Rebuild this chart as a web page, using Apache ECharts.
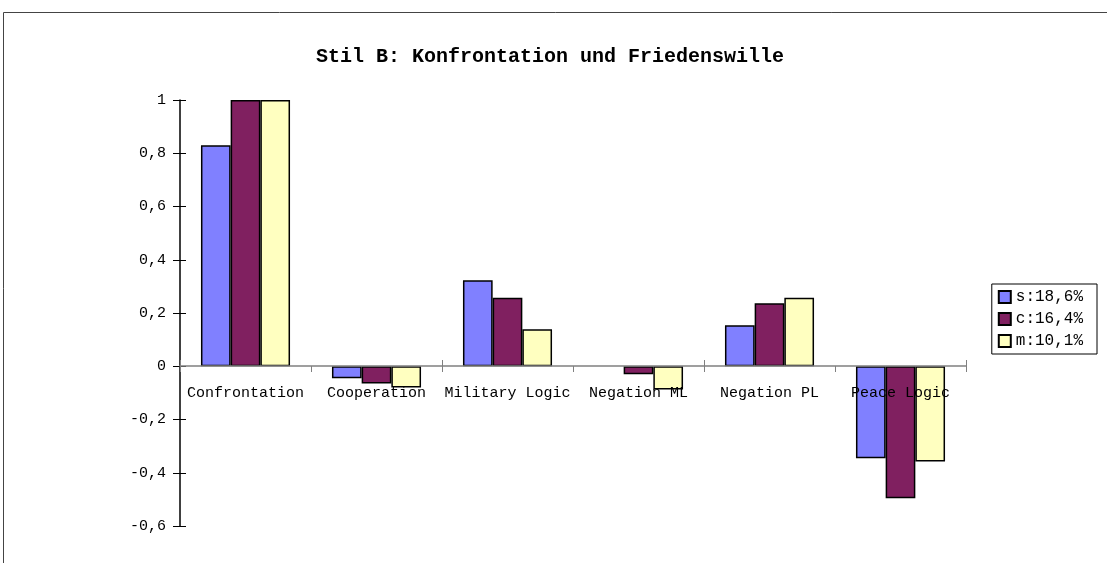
<!DOCTYPE html>
<html>
<head>
<meta charset="utf-8">
<script src="https://cdn.jsdelivr.net/npm/echarts@6/dist/echarts.min.js"></script>
<style>
  html, body { margin: 0; padding: 0; background: #fff; }
  #chart { width: 1107px; height: 563px; }
</style>
</head>
<body>
<div id="chart"></div>
<script>
const categories = ['Confrontation', 'Cooperation', 'Military Logic', 'Negation ML', 'Negation PL', 'Peace Logic'];
const seriesNames = ['s:18,6%', 'c:16,4%', 'm:10,1%'];
const sValues = [0.83, -0.045, 0.323, null, 0.154, -0.346];
const cValues = [1.0, -0.065, 0.257, -0.03, 0.237, -0.496];
const mValues = [1.0, -0.08, 0.139, -0.087, 0.257, -0.358];
const colors = ['#8080ff', '#802060', '#ffffc0'];

const font = '"Liberation Mono", "DejaVu Sans Mono", monospace';
const chart = echarts.init(document.getElementById('chart'), null, { renderer: 'canvas' });

const mkSeries = (name, data, color) => ({
  name: name,
  type: 'bar',
  data: data,
  barGap: '0%',
  barCategoryGap: '32%',
  itemStyle: { color: color, borderColor: '#000', borderWidth: 1.5 },
  emphasis: { disabled: true },
  animation: false
});

// zero line sits at y≈366, bottom of grid at y≈526
const zeroOffset = -160;

chart.setOption({
  animation: false,
  textStyle: { fontFamily: font, color: '#000' },
  title: {
    text: 'Stil B: Konfrontation und Friedenswille',
    left: 545,
    top: 42,
    textAlign: 'center',
    textStyle: { fontFamily: font, fontSize: 20, fontWeight: 'bold', color: '#000' }
  },
  grid: { left: 180, right: 141, top: 100, bottom: 37 },
  legend: {
    orient: 'vertical',
    right: 10,
    top: 284,
    icon: 'rect',
    itemWidth: 12,
    itemHeight: 12,
    itemGap: 6,
    padding: [5, 14, 5, 6],
    borderColor: '#000',
    borderWidth: 1,
    textStyle: { fontFamily: font, fontSize: 16, color: '#000' },
    data: seriesNames
  },
  xAxis: [{
    type: 'category',
    data: categories,
    offset: zeroOffset,
    z: 10,
    axisLine: { onZero: false, lineStyle: { color: '#808080', width: 1.5 } },
    axisTick: { show: true, length: 6, inside: false, lineStyle: { color: '#808080' } },
    axisLabel: { fontFamily: font, fontSize: 15, color: '#000', margin: 20, interval: 0 }
  }, {
    type: 'category',
    data: categories,
    position: 'bottom',
    offset: zeroOffset,
    axisLine: { show: false },
    axisTick: { show: true, length: 6, inside: true, lineStyle: { color: '#808080' } },
    axisLabel: { show: false }
  }],
  yAxis: [{
    type: 'value',
    min: -0.6,
    max: 1,
    interval: 0.2,
    splitLine: { show: false },
    axisLine: { show: true, lineStyle: { color: '#000', width: 1.5 } },
    axisTick: { show: true, length: 7, lineStyle: { color: '#000' } },
    axisLabel: {
      fontFamily: font, fontSize: 15, color: '#000', margin: 14,
      formatter: v => (Math.round(v * 10) / 10).toString().replace('.', ',')
    }
  }, {
    type: 'value',
    position: 'left',
    min: -0.6,
    max: 1,
    interval: 0.2,
    splitLine: { show: false },
    axisLine: { show: false },
    axisTick: { show: true, length: 6, inside: true, lineStyle: { color: '#000' } },
    axisLabel: { show: false }
  }],
  graphic: [{
    type: 'rect',
    shape: { x: 3.5, y: 12.5, width: 1200, height: 700 },
    style: { fill: 'none', stroke: '#444', lineWidth: 1 },
    silent: true
  }],
  series: [
    mkSeries(seriesNames[0], sValues, colors[0]),
    mkSeries(seriesNames[1], cValues, colors[1]),
    mkSeries(seriesNames[2], mValues, colors[2])
  ]
});
</script>
</body>
</html>
